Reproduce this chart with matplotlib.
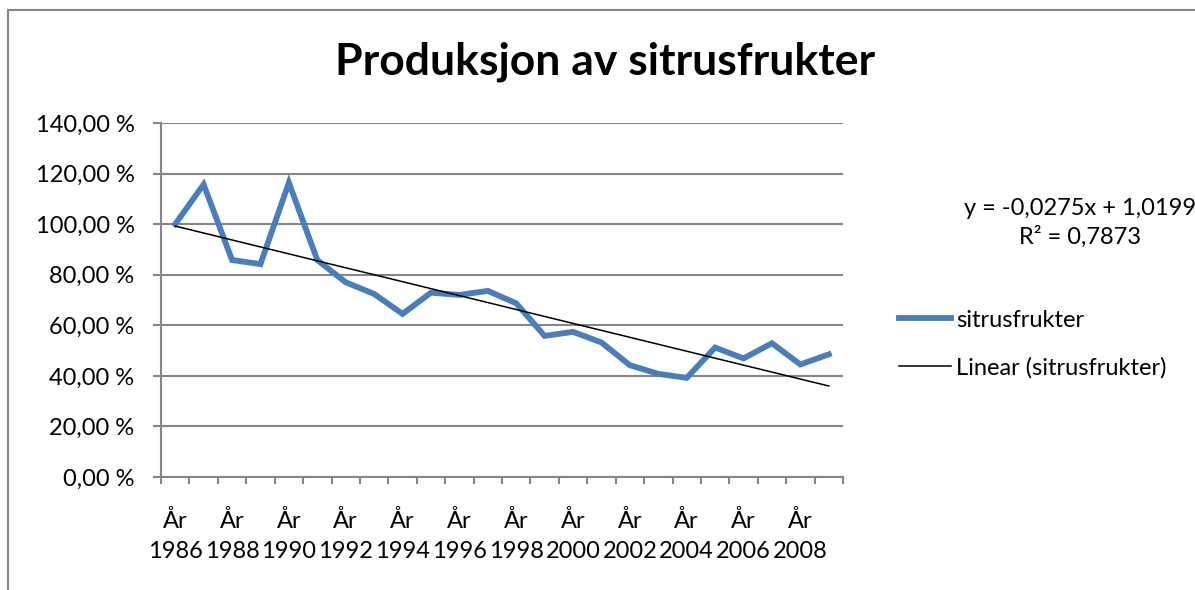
import matplotlib as mpl
mpl.use('agg')
import matplotlib.pyplot as plt
from matplotlib.lines import Line2D
from matplotlib.ticker import FuncFormatter
import numpy as np

plt.rc('font', family='Lato')

# data
years = list(range(1986, 2010))
share = [100.0, 115.7, 85.8, 84.2, 116.4, 85.8, 77.0, 72.4, 64.5, 72.9, 72.0, 73.6,
         68.7, 55.8, 57.4, 53.2, 44.2, 40.8, 39.2, 51.2, 46.9, 52.9, 44.5, 48.5]
slope = -0.0275
intercept = 1.0199
r2 = 0.7873

x = np.arange(len(years))
trend = (slope * (x + 1) + intercept) * 100

grey = '#868686'
fig = plt.figure(figsize=(11.95, 5.9), dpi=100)
ax = fig.add_axes([161/1195, 1 - 477/590, (843 - 161)/1195, (477 - 123)/590])

ax.plot(x, share, color='#4a7ebb', lw=4.2, solid_joinstyle='miter', label='sitrusfrukter')
ax.plot(x, trend, color='black', lw=1.1, label='Linear (sitrusfrukter)')

ax.set_xlim(-0.5, len(years) - 0.5)
ax.set_ylim(0, 140)
ax.set_yticks(np.arange(0, 141, 20))
ax.yaxis.set_major_formatter(FuncFormatter(lambda v, p: f'{v:.2f}'.replace('.', ',') + ' %'))
ax.grid(axis='y', color=grey, lw=1.5)
ax.set_axisbelow(True)

# ticks between categories, labels on every other year
ax.set_xticks(np.arange(-0.5, len(years), 1))
ax.set_xticklabels([])
ax.set_xticks(x[::2], minor=True)
ax.set_xticklabels([f'År\n{y}' for y in years[::2]], minor=True, linespacing=1.5)
ax.tick_params(axis='x', which='major', direction='out', length=5, width=1.5, color=grey)
ax.tick_params(axis='x', which='minor', length=0, pad=24, labelsize=17)
ax.tick_params(axis='y', direction='out', length=6, width=1.5, color=grey, labelsize=17, pad=13)

for s in ['top', 'right']:
    ax.spines[s].set_visible(False)
for s in ['left', 'bottom']:
    ax.spines[s].set_color(grey)
    ax.spines[s].set_linewidth(1.5)

fig.text(605/1195, 1 - 62/590, 'Produksjon av sitrusfrukter', ha='center', va='center',
         fontsize=32, fontweight='bold')
fig.text(1080/1195, 1 - 223/590, 'y = -0,0275x + 1,0199\nR² = 0,7873', ha='center',
         va='center', fontsize=17, linespacing=1.4)

fig.legend(loc='center left', bbox_to_anchor=(878/1195, 1 - 344/590), frameon=False,
           fontsize=17, handlelength=2.2, handletextpad=0.2, labelspacing=1.1)

# chart border (top and left edges visible)
fig.add_artist(Line2D([8/1195, 8/1195], [0, 1 - 10/590], transform=fig.transFigure, color=grey, lw=1.5))
fig.add_artist(Line2D([8/1195, 1194/1195], [1 - 10/590, 1 - 10/590], transform=fig.transFigure, color=grey, lw=1.5))

fig.savefig('out.png', dpi=100)
